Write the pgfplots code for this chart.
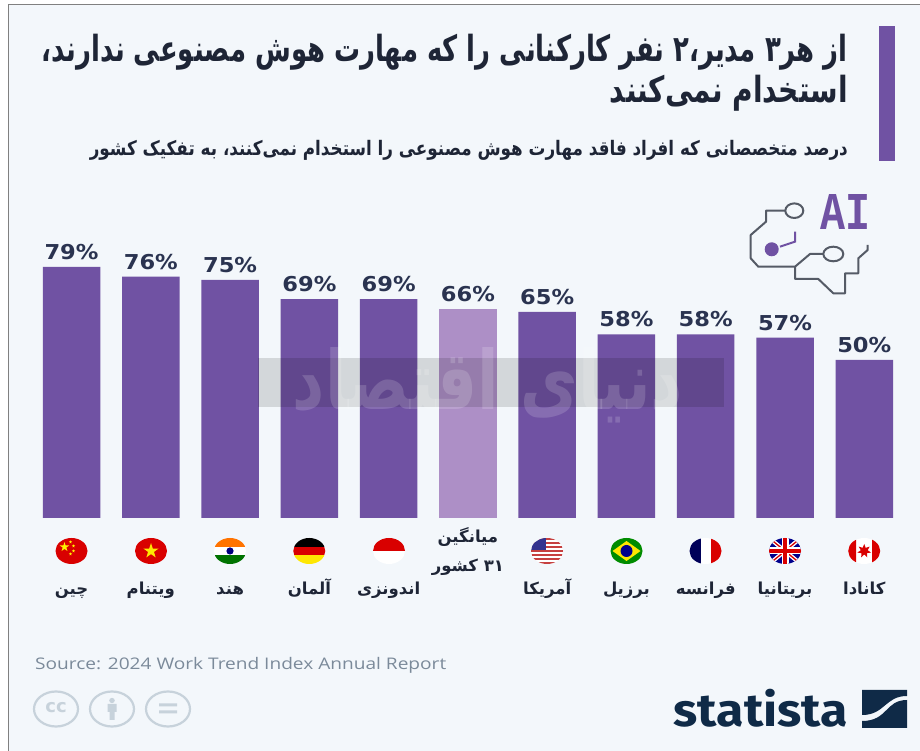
\documentclass[border=0pt]{standalone}
\usepackage{fontspec}
\usepackage{pgfplots}
\pgfplotsset{compat=1.18}
\usetikzlibrary{shapes.geometric}
\setmainfont{DejaVu Sans}
\newfontfamily\arabicfont[Script=Arabic]{DejaVu Sans}
\newfontfamily\brandfont{Fira Sans}
\newfontfamily\sourcefont{Open Sans}
\newfontfamily\monofont{Liberation Mono}
\TeXXeTstate=1
\newcommand\fa[1]{{\arabicfont\beginR #1\endR}}
\newcommand\fs[1]{\fontsize{#1}{#1}\selectfont}
\definecolor{barmain}{HTML}{7052A3}
\definecolor{baravg}{HTML}{AD8FC6}
\definecolor{panel}{HTML}{F3F7FB}
\definecolor{ink}{HTML}{1E2536}
\definecolor{labelink}{HTML}{2A3350}
\definecolor{navy}{HTML}{0F2A47}
\definecolor{circuit}{HTML}{555B66}
\definecolor{ccgray}{HTML}{C7D2DB}
\definecolor{srcgray}{HTML}{7B8A9A}
% round flag: centre x on the flag row, drawing clipped to an ellipse
\newcommand\flag[2]{\begin{scope}[shift={(#1,551)}]
  \clip (0,0) ellipse [x radius=16,y radius=13];
  #2
\end{scope}}
\begin{document}
\begin{tikzpicture}
\useasboundingbox (0,0) rectangle (920pt,751pt);
\fill[white] (0,0) rectangle (920pt,751pt);
\fill[panel] (8pt,0) rectangle (920pt,746pt);
\draw[gray,line width=1pt] (8pt,0) -- (8pt,746pt) -- (920pt,746pt);

\begin{axis}[
  at={(31.9pt,233pt)}, anchor=south west,
  scale only axis, width=872pt, height=286.3pt,
  xmin=-0.5, xmax=10.5, ymin=0.72, ymax=90,
  axis line style={draw=none}, tick style={draw=none},
  ytick=\empty, xtick={0,...,10},
  xticklabels={
    {\fa{چین}},{\fa{ویتنام}},{\fa{هند}},{\fa{آلمان}},{\fa{اندونزی}},
    {\raisebox{52pt}{\makebox[0pt]{\fa{میانگین}}}\raisebox{23pt}{\makebox[0pt]{\fa{\beginL ۳۱\endL{} کشور}}}},
    {\fa{آمریکا}},{\fa{برزیل}},{\fa{فرانسه}},{\fa{بریتانیا}},{\fa{کانادا}}},
  xticklabel style={anchor=base,yshift=-72pt,font=\bfseries\fs{16.5},text=ink},
  ybar, bar width=57.5pt,
  nodes near coords={\resizebox{54pt}{\height}{\pgfmathprintnumber[assume math mode=true]{\pgfplotspointmeta}\%}},
  every node near coord/.append style={font=\bfseries\fs{20.5},text=labelink,anchor=south,yshift=3.5pt},
]
\addplot[fill=barmain,draw=none,bar shift=0pt] coordinates
  {(0,79) (1,76) (2,75) (3,69) (4,69) (6,65) (7,58) (8,58) (9,57) (10,50)};
\addplot[fill=baravg,draw=none,bar shift=0pt] coordinates {(5,66)};
\end{axis}

\begin{scope}[x=1pt,y=-1pt,shift={(0pt,751pt)}]
% heading block
\fill[barmain] (878.5,26) rectangle (895,161);
\node[anchor=base east,inner sep=0,text=ink] at (848,62)
  {\resizebox{806pt}{\height}{\bfseries\fs{36}\fa{از هر۳ مدیر،۲ نفر کارکنانی را که مهارت هوش مصنوعی ندارند،}}};
\node[anchor=base east,inner sep=0,text=ink] at (848,103)
  {\resizebox{238pt}{\height}{\bfseries\fs{36}\fa{استخدام نمی‌کنند}}};
\node[anchor=base east,inner sep=0,text=ink] at (848,156)
  {\resizebox{758pt}{\height}{\bfseries\fs{20}\fa{درصد متخصصانی که افراد فاقد مهارت هوش مصنوعی را استخدام نمی‌کنند، به تفکیک کشور}}};

% press watermark across the bars
\fill[black,opacity=.13] (258,358) rectangle (724,407);
\node[text=white,opacity=.16,inner sep=0] at (488,385)
  {\resizebox{390pt}{62pt}{\bfseries\fs{50}\fa{دنیای اقتصاد}}};

% circuit pictogram
\begin{scope}[line width=2pt,draw=circuit,line join=round]
  \draw (785.3,210.7) -- (766,210.7) -- (766,221.7) -- (750.7,235) -- (750.7,258.3)
        -- (758.3,266.7) -- (795,266.7) -- (810,254) -- (823.3,254);
  \draw (794.3,210.7) ellipse [x radius=9,y radius=7.3];
  \draw (833.3,254) ellipse [x radius=10,y radius=7.3];
  \draw (795,266.7) -- (795,279) -- (818.3,279) -- (833.3,293.3) -- (845,293.3)
        -- (845,273.3) -- (858.3,273.3) -- (858.3,258.3) -- (867.7,250) -- (867.7,245);
\end{scope}
\fill[barmain] (771.7,249.3) circle [radius=7];
\draw[barmain,line width=2pt] (780,246.7) -- (795,241.7) -- (795,231.7);
\node[anchor=south west,inner sep=0,text=barmain] at (820,230)
  {\resizebox{50pt}{35pt}{\monofont\bfseries AI}};

% flags, left to right
\flag{71.5}{\fill[red!85!black] (-17,-14) rectangle (17,14);
  \node[star,star points=5,star point ratio=2.6,fill=yellow,inner sep=0,minimum size=10pt] at (-7,-4) {};
  \foreach \p in {(-1,-9),(2,-5),(2,0),(-1,3)}
    \node[star,star points=5,star point ratio=2.6,fill=yellow,inner sep=0,minimum size=3.5pt] at \p {};}
\flag{151}{\fill[red!85!black] (-17,-14) rectangle (17,14);
  \node[star,star points=5,star point ratio=2.6,fill=yellow!90!orange,inner sep=0,minimum size=16pt] at (0,0) {};}
\flag{230}{\fill[orange!90!red] (-17,-14) rectangle (17,-4.3);
  \fill[white] (-17,-4.3) rectangle (17,4.3);
  \fill[green!45!black] (-17,4.3) rectangle (17,14);
  \fill[blue!50!black] (0,0) circle [radius=3.6];}
\flag{309.3}{\fill[black] (-17,-14) rectangle (17,-4.3);
  \fill[red!85!black] (-17,-4.3) rectangle (17,4.3);
  \fill[yellow!90!orange] (-17,4.3) rectangle (17,14);}
\flag{389}{\fill[red!85!black] (-17,-14) rectangle (17,0);
  \fill[white] (-17,0) rectangle (17,14);}
\flag{547}{\fill[white] (-17,-14) rectangle (17,14);
  \foreach \s in {-13,-9,-5,-1,3,7,11}
    \fill[red!70!black!75!white] (-17,\s) rectangle (17,\s+2);
  \fill[blue!45!black!80!white] (-17,-14) rectangle (-1,-1);}
\flag{626.5}{\fill[green!55!black] (-17,-14) rectangle (17,14);
  \fill[yellow!90!orange] (-14,0) -- (0,-10) -- (14,0) -- (0,10) -- cycle;
  \fill[blue!55!black] (0,0) circle [radius=6];}
\flag{705.5}{\fill[blue!35!black] (-17,-14) rectangle (-5,14);
  \fill[white] (-5,-14) rectangle (5,14);
  \fill[red!85!black] (5,-14) rectangle (17,14);}
\flag{785}{\fill[blue!55!black] (-17,-14) rectangle (17,14);
  \draw[white,line width=4pt] (-17,-14) -- (17,14) (-17,14) -- (17,-14);
  \draw[red!85!black,line width=1.3pt] (-17,-14) -- (17,14) (-17,14) -- (17,-14);
  \draw[white,line width=7pt] (-17,0) -- (17,0) (0,-14) -- (0,14);
  \draw[red!85!black,line width=4pt] (-17,0) -- (17,0) (0,-14) -- (0,14);}
\flag{864.2}{\fill[white] (-17,-14) rectangle (17,14);
  \fill[red!85!black] (-17,-14) rectangle (-8,14) (8,-14) rectangle (17,14);
  \node[star,star points=7,star point ratio=2,fill=red!85!black,inner sep=0,minimum size=14pt] at (0,0) {};}

% source line and licence badges
\node[anchor=base west,inner sep=0,text=srcgray] at (35,670)
  {\resizebox{411pt}{\height}{\sourcefont\fs{16}Source: 2024 Work Trend Index Annual Report}};
\begin{scope}[draw=ccgray,line width=2.2pt]
  \foreach \c in {56,112,168}
    \draw (\c,709) ellipse [x radius=22,y radius=17.5];
\end{scope}
\node[text=ccgray,inner sep=0] at (56,708) {\bfseries\fs{18}cc};
\fill[ccgray] (112,700.5) ellipse [x radius=2.8,y radius=2.6];
\fill[ccgray] (107.5,704) rectangle (116.5,712) (109.5,712) rectangle (114.5,720);
\fill[ccgray] (159,703.5) rectangle (177,706.5) (159,710.5) rectangle (177,713.5);

% publisher mark
\node[anchor=base east,inner sep=0,text=navy] at (848,727)
  {\resizebox{174pt}{\height}{\brandfont\bfseries\fs{46}statista}};
\fill[navy] (862,690) -- (907,690) -- (907,696) .. controls (885,696) and (885,715) .. (862,715) -- cycle;
\fill[navy] (907,700) -- (907,728) -- (862,728) -- (862,721) .. controls (888,721) and (885,700) .. (907,700) -- cycle;
\end{scope}
\end{tikzpicture}
\end{document}
